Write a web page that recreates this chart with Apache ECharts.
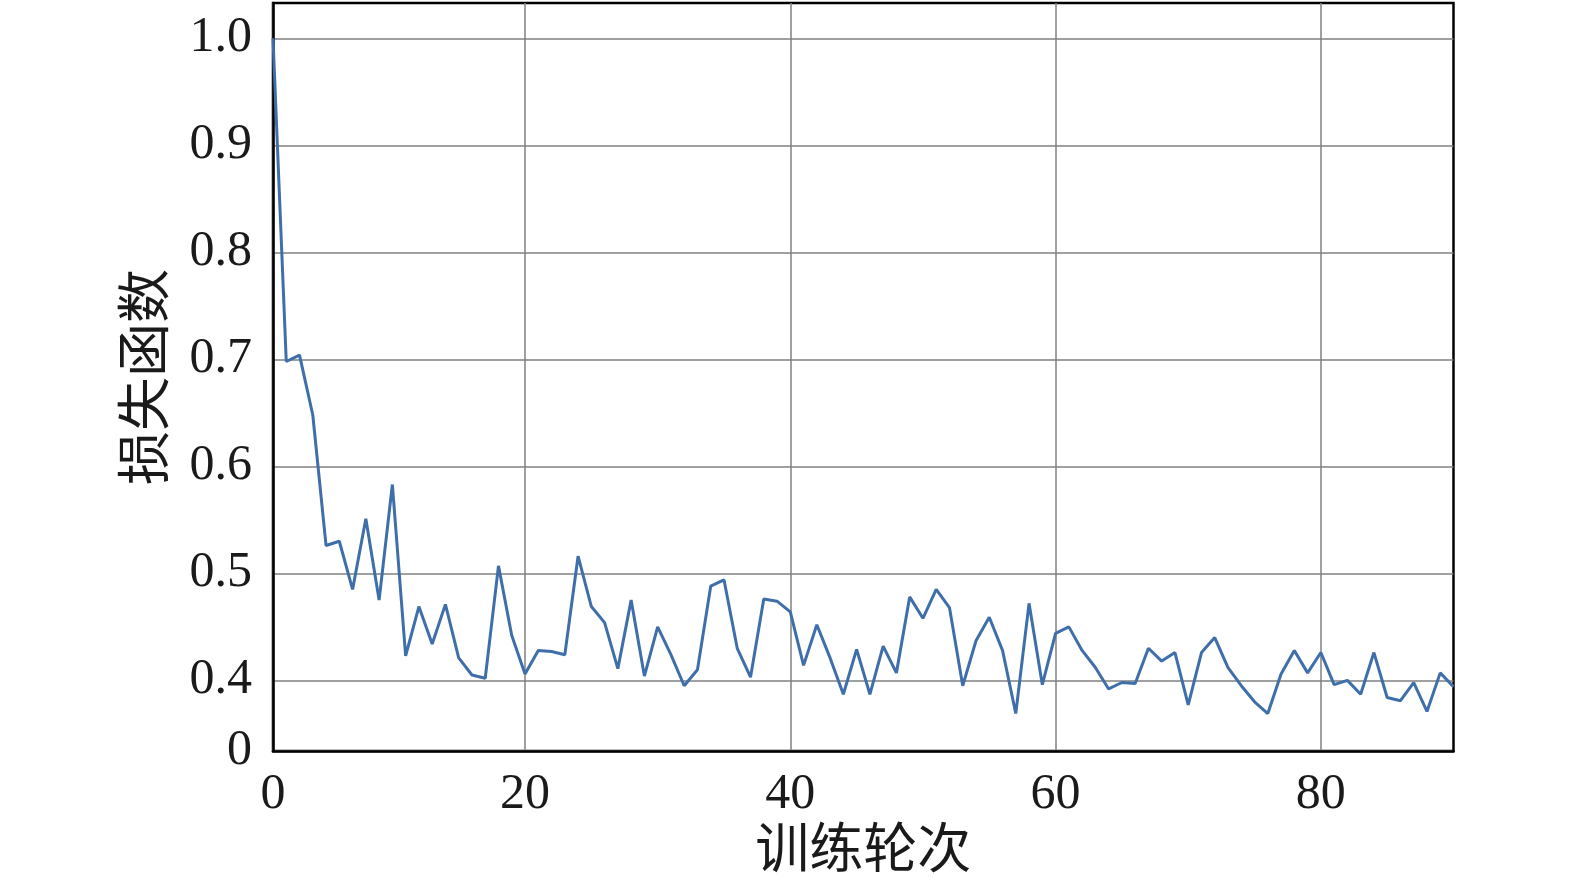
<!DOCTYPE html>
<html>
<head>
<meta charset="utf-8">
<script src="https://cdn.jsdelivr.net/npm/echarts@6/dist/echarts.min.js"></script>
<style>
html,body{margin:0;padding:0;background:#fff;}
#chart{width:1575px;height:886px;}
</style>
</head>
<body>
<div id="chart"></div>
<script>
const epochs = [1,2,3,4,5,6,7,8,9,10,11,12,13,14,15,16,17,18,19,20,21,22,23,24,25,26,27,28,29,30,31,32,33,34,35,36,37,38,39,40,41,42,43,44,45,46,47,48,49,50,51,52,53,54,55,56,57,58,59,60,61,62,63,64,65,66,67,68,69,70,71,72,73,74,75,76,77,78,79,80,81,82,83,84,85,86,87,88,89,90];
const loss = [1.0,0.698,0.704,0.648,0.526,0.530,0.485,0.551,0.475,0.583,
  0.423,0.469,0.434,0.471,0.421,0.405,0.402,0.507,0.442,0.406,
  0.428,0.427,0.424,0.516,0.469,0.454,0.411,0.475,0.404,0.450,
  0.424,0.395,0.410,0.488,0.494,0.430,0.403,0.476,0.474,0.464,
  0.414,0.452,0.421,0.387,0.429,0.387,0.432,0.407,0.478,0.458,
  0.485,0.468,0.395,0.437,0.459,0.428,0.369,0.472,0.396,0.444,
  0.450,0.428,0.412,0.392,0.398,0.397,0.430,0.418,0.426,0.377,
  0.426,0.440,0.412,0.395,0.380,0.369,0.406,0.428,0.407,0.426,
  0.396,0.400,0.387,0.426,0.384,0.381,0.398,0.371,0.407,0.394];
const xTicks = [1,20,40,60,80];
const xTickLabels = ['0','20','40','60','80'];
const yTicks = [0.334,0.4,0.5,0.6,0.7,0.8,0.9,1.0];
const yTickLabels = ['0','0.4','0.5','0.6','0.7','0.8','0.9','1.0'];
const xName = '训练轮次';
const yName = '损失函数';

const numFont = '"Liberation Serif","DejaVu Serif",serif';
const cjkFont = '"Liberation Serif","Noto Sans CJK SC",serif';

const chart = echarts.init(document.getElementById('chart'));
chart.setOption({
  animation:false,
  backgroundColor:'#fff',
  grid:{left:273,right:121.5,top:3,bottom:135,show:true,borderColor:'#000',borderWidth:2.5,backgroundColor:'transparent'},
  xAxis:{
    type:'value',min:1,max:90,
    name:xName,nameLocation:'middle',nameGap:76,
    nameTextStyle:{fontFamily:cjkFont,fontSize:54,color:'#1a1a1a'},
    axisLine:{show:true,lineStyle:{color:'#000',width:2.5}},
    axisTick:{show:false,customValues:xTicks},
    axisLabel:{customValues:xTicks,margin:19,fontFamily:numFont,fontSize:50,color:'#1a1a1a',
      formatter:function(v){const i=xTicks.indexOf(v);return i>=0?xTickLabels[i]:'';}},
    splitLine:{show:true,lineStyle:{color:'#808080',width:1.5}}
  },
  yAxis:{
    type:'value',min:0.334,max:1.033,
    name:yName,nameLocation:'middle',nameGap:96,nameRotate:90,
    nameTextStyle:{fontFamily:cjkFont,fontSize:54,color:'#1a1a1a'},
    axisLine:{show:true,lineStyle:{color:'#000',width:2.5}},
    axisTick:{show:false,customValues:yTicks},
    axisLabel:{customValues:yTicks,margin:21,fontFamily:numFont,fontSize:50,color:'#1a1a1a',
      formatter:function(v){let idx=-1;yTicks.forEach((t,i)=>{if(Math.abs(t-v)<1e-6)idx=i;});return idx>=0?yTickLabels[idx]:'';}},
    splitLine:{show:true,lineStyle:{color:'#808080',width:1.5}}
  },
  series:[{
    type:'line',
    data:epochs.map((e,i)=>[e,loss[i]]),
    showSymbol:false,symbol:'none',
    lineStyle:{color:'#3F6FAA',width:3},
    clip:true
  }]
});
</script>
</body>
</html>
